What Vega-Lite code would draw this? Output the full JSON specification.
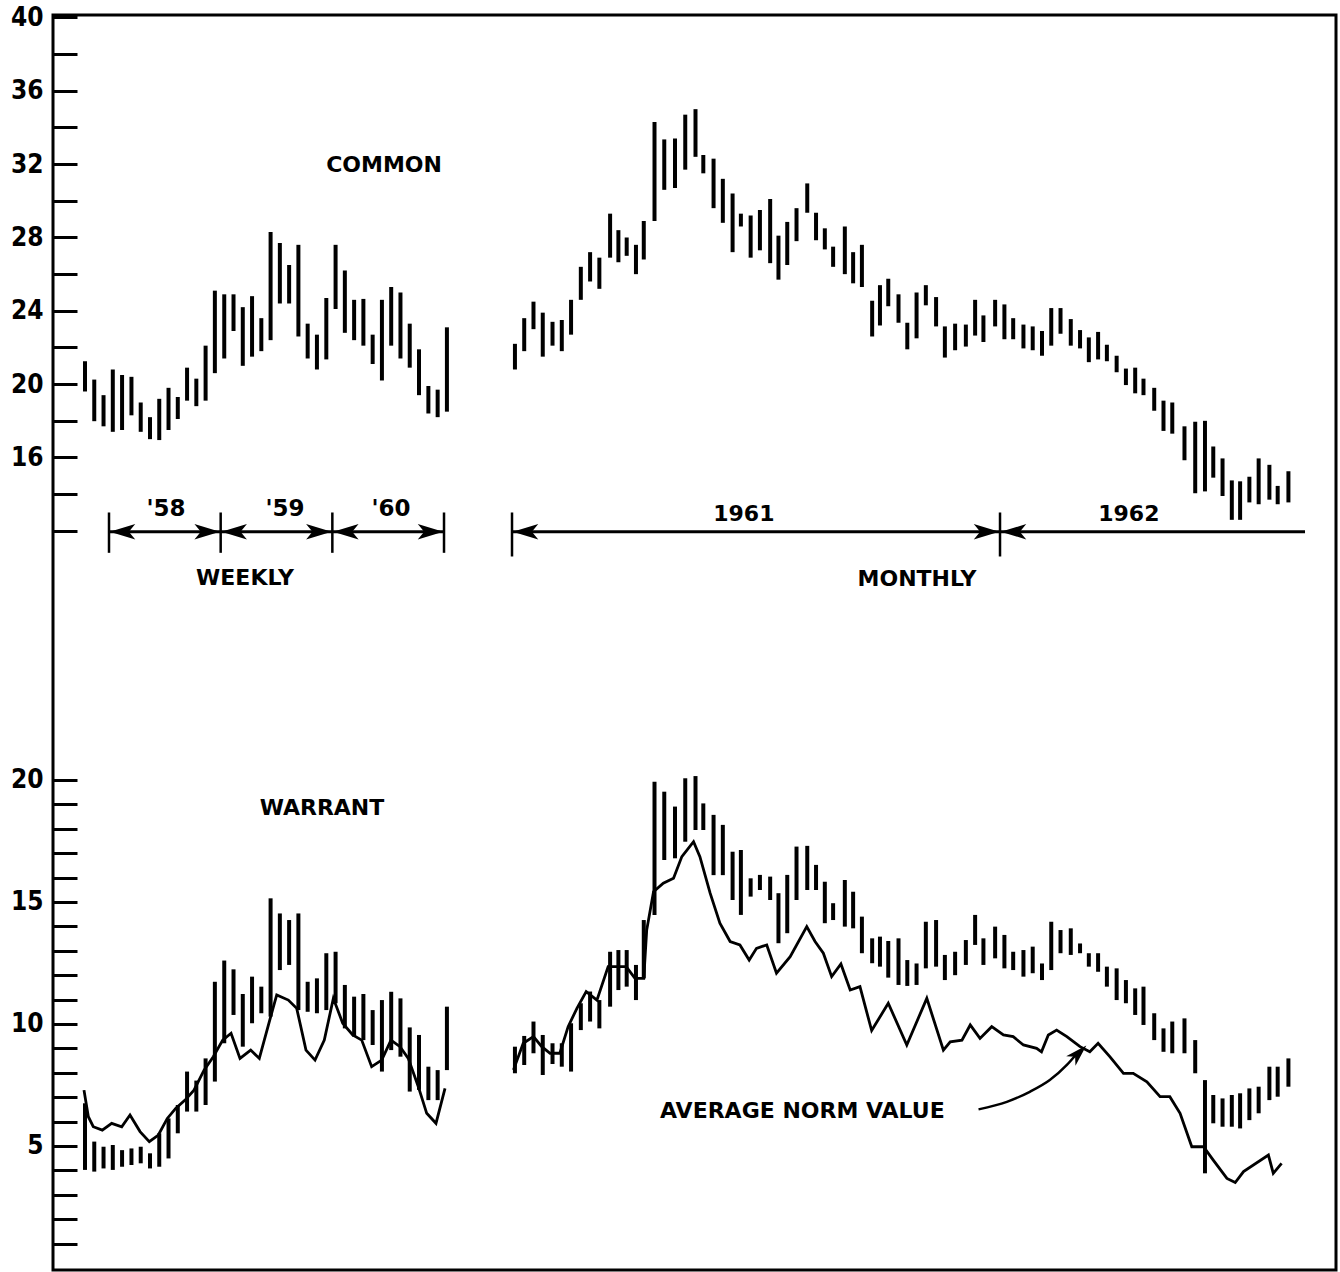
{
  "$schema": "https://vega.github.io/schema/vega-lite/v6.json",
  "width": 1283,
  "height": 1255,
  "autosize": "none",
  "padding": {"left": 53, "top": 15, "right": 4, "bottom": 2},
  "background": "white",
  "config": {"view": {"stroke": "black", "strokeWidth": 3}},
  "datasets": {
    "weekly": [
      {"t": 1957.785, "cLo": 19.6, "cHi": 21.25, "wLo": 4.02, "wHi": 6.75},
      {"t": 1957.868, "cLo": 17.98, "cHi": 20.25, "wLo": 3.95, "wHi": 5.18},
      {"t": 1957.951, "cLo": 17.7, "cHi": 19.4, "wLo": 4.08, "wHi": 4.97},
      {"t": 1958.034, "cLo": 17.4, "cHi": 20.8, "wLo": 4.02, "wHi": 5.04},
      {"t": 1958.117, "cLo": 17.5, "cHi": 20.5, "wLo": 4.15, "wHi": 4.83},
      {"t": 1958.201, "cLo": 18.3, "cHi": 20.4, "wLo": 4.22, "wHi": 4.9},
      {"t": 1958.284, "cLo": 17.4, "cHi": 19.0, "wLo": 4.29, "wHi": 4.97},
      {"t": 1958.367, "cLo": 17.0, "cHi": 18.2, "wLo": 4.08, "wHi": 4.7},
      {"t": 1958.450, "cLo": 16.95, "cHi": 19.2, "wLo": 4.15, "wHi": 5.52},
      {"t": 1958.533, "cLo": 17.5, "cHi": 19.8, "wLo": 4.49, "wHi": 6.13},
      {"t": 1958.616, "cLo": 18.1, "cHi": 19.3, "wLo": 5.52, "wHi": 6.68},
      {"t": 1958.699, "cLo": 19.1, "cHi": 20.9, "wLo": 6.41, "wHi": 8.05},
      {"t": 1958.782, "cLo": 18.8, "cHi": 20.3, "wLo": 6.41, "wHi": 7.68},
      {"t": 1958.865, "cLo": 19.1, "cHi": 22.1, "wLo": 6.68, "wHi": 8.59},
      {"t": 1958.948, "cLo": 20.6, "cHi": 25.1, "wLo": 7.64, "wHi": 11.73},
      {"t": 1959.032, "cLo": 21.4, "cHi": 24.9, "wLo": 9.21, "wHi": 12.6},
      {"t": 1959.115, "cLo": 22.9, "cHi": 24.9, "wLo": 10.37, "wHi": 12.24},
      {"t": 1959.198, "cLo": 21.0, "cHi": 24.2, "wLo": 9.07, "wHi": 11.23},
      {"t": 1959.281, "cLo": 21.5, "cHi": 24.8, "wLo": 10.03, "wHi": 11.94},
      {"t": 1959.364, "cLo": 21.8, "cHi": 23.6, "wLo": 10.44, "wHi": 11.53},
      {"t": 1959.447, "cLo": 22.4, "cHi": 28.3, "wLo": 10.3, "wHi": 15.15},
      {"t": 1959.530, "cLo": 24.4, "cHi": 27.7, "wLo": 12.21, "wHi": 14.53},
      {"t": 1959.613, "cLo": 24.4, "cHi": 26.5, "wLo": 12.42, "wHi": 14.26},
      {"t": 1959.696, "cLo": 22.6, "cHi": 27.6, "wLo": 10.57, "wHi": 14.53},
      {"t": 1959.779, "cLo": 21.4, "cHi": 23.3, "wLo": 10.5, "wHi": 11.73},
      {"t": 1959.862, "cLo": 20.8, "cHi": 22.7, "wLo": 10.44, "wHi": 11.87},
      {"t": 1959.946, "cLo": 21.35, "cHi": 24.7, "wLo": 10.57, "wHi": 12.9},
      {"t": 1960.029, "cLo": 24.1, "cHi": 27.6, "wLo": 10.85, "wHi": 12.96},
      {"t": 1960.112, "cLo": 22.8, "cHi": 26.2, "wLo": 9.82, "wHi": 11.6},
      {"t": 1960.195, "cLo": 22.4, "cHi": 24.6, "wLo": 9.48, "wHi": 11.12},
      {"t": 1960.278, "cLo": 22.1, "cHi": 24.65, "wLo": 9.34, "wHi": 11.23},
      {"t": 1960.361, "cLo": 21.1, "cHi": 22.7, "wLo": 9.14, "wHi": 10.57},
      {"t": 1960.444, "cLo": 20.2, "cHi": 24.6, "wLo": 8.05, "wHi": 10.98},
      {"t": 1960.527, "cLo": 22.1, "cHi": 25.3, "wLo": 8.93, "wHi": 11.32},
      {"t": 1960.610, "cLo": 21.4, "cHi": 25.0, "wLo": 8.66, "wHi": 11.05},
      {"t": 1960.693, "cLo": 20.9, "cHi": 23.3, "wLo": 7.23, "wHi": 9.86},
      {"t": 1960.776, "cLo": 19.4, "cHi": 21.9, "wLo": 7.3, "wHi": 9.55},
      {"t": 1960.860, "cLo": 18.4, "cHi": 19.9, "wLo": 6.88, "wHi": 8.25},
      {"t": 1960.943, "cLo": 18.2, "cHi": 19.7, "wLo": 6.88, "wHi": 8.11},
      {"t": 1961.026, "cLo": 18.5, "cHi": 23.1, "wLo": 8.11, "wHi": 10.71}
    ],
    "monthly": [
      {"t": 1961.006, "cLo": 20.8, "cHi": 22.2, "wLo": 7.98, "wHi": 9.07},
      {"t": 1961.025, "cLo": 21.8, "cHi": 23.6, "wLo": 8.32, "wHi": 9.51},
      {"t": 1961.044, "cLo": 23.0, "cHi": 24.5, "wLo": 8.8, "wHi": 10.1},
      {"t": 1961.063, "cLo": 21.5, "cHi": 23.9, "wLo": 7.91, "wHi": 9.55},
      {"t": 1961.083, "cLo": 22.1, "cHi": 23.4, "wLo": 8.36, "wHi": 9.21},
      {"t": 1961.102, "cLo": 21.8, "cHi": 23.5, "wLo": 8.25, "wHi": 9.21},
      {"t": 1961.121, "cLo": 22.7, "cHi": 24.6, "wLo": 8.05, "wHi": 10.03},
      {"t": 1961.141, "cLo": 24.6, "cHi": 26.4, "wLo": 9.75, "wHi": 10.85},
      {"t": 1961.160, "cLo": 25.6, "cHi": 27.2, "wLo": 10.1, "wHi": 11.33},
      {"t": 1961.179, "cLo": 25.2, "cHi": 26.9, "wLo": 9.82, "wHi": 10.98},
      {"t": 1961.201, "cLo": 26.9, "cHi": 29.3, "wLo": 10.71, "wHi": 12.96},
      {"t": 1961.218, "cLo": 26.65, "cHi": 28.4, "wLo": 11.39, "wHi": 13.03},
      {"t": 1961.235, "cLo": 27.0, "cHi": 28.0, "wLo": 11.53, "wHi": 13.03},
      {"t": 1961.254, "cLo": 26.0, "cHi": 27.6, "wLo": 10.98, "wHi": 12.42},
      {"t": 1961.270, "cLo": 26.8, "cHi": 28.9, "wLo": 11.87, "wHi": 14.26},
      {"t": 1961.292, "cLo": 28.9, "cHi": 34.3, "wLo": 14.47, "wHi": 19.93},
      {"t": 1961.312, "cLo": 30.6, "cHi": 33.35, "wLo": 16.72, "wHi": 19.52},
      {"t": 1961.334, "cLo": 30.7, "cHi": 33.4, "wLo": 16.79, "wHi": 18.91},
      {"t": 1961.355, "cLo": 31.7, "cHi": 34.7, "wLo": 17.47, "wHi": 20.07},
      {"t": 1961.376, "cLo": 32.4, "cHi": 35.0, "wLo": 17.95, "wHi": 20.16},
      {"t": 1961.392, "cLo": 31.5, "cHi": 32.5, "wLo": 17.95, "wHi": 19.04},
      {"t": 1961.413, "cLo": 29.6, "cHi": 32.3, "wLo": 16.1, "wHi": 18.57},
      {"t": 1961.432, "cLo": 28.8, "cHi": 31.2, "wLo": 16.1, "wHi": 18.16},
      {"t": 1961.452, "cLo": 27.2, "cHi": 30.4, "wLo": 15.08, "wHi": 17.06},
      {"t": 1961.469, "cLo": 28.6, "cHi": 29.3, "wLo": 14.47, "wHi": 17.13},
      {"t": 1961.489, "cLo": 26.9, "cHi": 29.2, "wLo": 15.22, "wHi": 15.97},
      {"t": 1961.508, "cLo": 27.3, "cHi": 29.5, "wLo": 15.49, "wHi": 16.11},
      {"t": 1961.529, "cLo": 26.6, "cHi": 30.1, "wLo": 15.08, "wHi": 16.04},
      {"t": 1961.546, "cLo": 25.7, "cHi": 28.1, "wLo": 13.31, "wHi": 15.36},
      {"t": 1961.564, "cLo": 26.5, "cHi": 28.85, "wLo": 13.72, "wHi": 16.11},
      {"t": 1961.583, "cLo": 27.8, "cHi": 29.6, "wLo": 15.08, "wHi": 17.27},
      {"t": 1961.605, "cLo": 29.35, "cHi": 30.95, "wLo": 15.49, "wHi": 17.3},
      {"t": 1961.623, "cLo": 27.85, "cHi": 29.35, "wLo": 15.49, "wHi": 16.52},
      {"t": 1961.641, "cLo": 27.35, "cHi": 28.5, "wLo": 14.13, "wHi": 15.83},
      {"t": 1961.658, "cLo": 26.4, "cHi": 27.5, "wLo": 14.26, "wHi": 14.95},
      {"t": 1961.682, "cLo": 26.0, "cHi": 28.6, "wLo": 13.99, "wHi": 15.9},
      {"t": 1961.699, "cLo": 25.5, "cHi": 27.2, "wLo": 13.92, "wHi": 15.42},
      {"t": 1961.717, "cLo": 25.3, "cHi": 27.6, "wLo": 12.9, "wHi": 14.4},
      {"t": 1961.738, "cLo": 22.6, "cHi": 24.55, "wLo": 12.49, "wHi": 13.51},
      {"t": 1961.754, "cLo": 23.2, "cHi": 25.4, "wLo": 12.35, "wHi": 13.58},
      {"t": 1961.771, "cLo": 24.25, "cHi": 25.75, "wLo": 11.9, "wHi": 13.4},
      {"t": 1961.792, "cLo": 23.35, "cHi": 24.9, "wLo": 11.6, "wHi": 13.51},
      {"t": 1961.810, "cLo": 21.9, "cHi": 23.35, "wLo": 11.56, "wHi": 12.62},
      {"t": 1961.829, "cLo": 22.5, "cHi": 25.0, "wLo": 11.6, "wHi": 12.48},
      {"t": 1961.848, "cLo": 24.3, "cHi": 25.4, "wLo": 12.28, "wHi": 14.19},
      {"t": 1961.869, "cLo": 23.15, "cHi": 24.75, "wLo": 12.35, "wHi": 14.26},
      {"t": 1961.887, "cLo": 21.45, "cHi": 23.15, "wLo": 11.8, "wHi": 12.83},
      {"t": 1961.908, "cLo": 21.85, "cHi": 23.3, "wLo": 12.0, "wHi": 12.96},
      {"t": 1961.930, "cLo": 22.05, "cHi": 23.25, "wLo": 12.42, "wHi": 13.44},
      {"t": 1961.949, "cLo": 22.65, "cHi": 24.6, "wLo": 13.24, "wHi": 14.47},
      {"t": 1961.966, "cLo": 22.3, "cHi": 23.75, "wLo": 12.42, "wHi": 13.51},
      {"t": 1961.990, "cLo": 23.15, "cHi": 24.6, "wLo": 12.69, "wHi": 13.99},
      {"t": 1962.009, "cLo": 22.45, "cHi": 24.35, "wLo": 12.28, "wHi": 13.65},
      {"t": 1962.027, "cLo": 22.45, "cHi": 23.6, "wLo": 12.21, "wHi": 12.96},
      {"t": 1962.048, "cLo": 21.95, "cHi": 23.25, "wLo": 11.94, "wHi": 13.03},
      {"t": 1962.067, "cLo": 21.85, "cHi": 23.15, "wLo": 12.08, "wHi": 13.17},
      {"t": 1962.086, "cLo": 21.55, "cHi": 22.9, "wLo": 11.8, "wHi": 12.48},
      {"t": 1962.105, "cLo": 22.1, "cHi": 24.15, "wLo": 12.21, "wHi": 14.19},
      {"t": 1962.124, "cLo": 22.75, "cHi": 24.15, "wLo": 12.9, "wHi": 13.85},
      {"t": 1962.145, "cLo": 22.1, "cHi": 23.55, "wLo": 12.83, "wHi": 13.92},
      {"t": 1962.164, "cLo": 21.95, "cHi": 22.95, "wLo": 12.9, "wHi": 13.3},
      {"t": 1962.182, "cLo": 21.2, "cHi": 22.55, "wLo": 12.35, "wHi": 12.9},
      {"t": 1962.201, "cLo": 21.35, "cHi": 22.85, "wLo": 12.14, "wHi": 12.9},
      {"t": 1962.219, "cLo": 21.25, "cHi": 22.15, "wLo": 11.53, "wHi": 12.35},
      {"t": 1962.239, "cLo": 20.65, "cHi": 21.55, "wLo": 10.98, "wHi": 12.28},
      {"t": 1962.258, "cLo": 19.95, "cHi": 20.85, "wLo": 10.85, "wHi": 11.8},
      {"t": 1962.277, "cLo": 19.5, "cHi": 20.9, "wLo": 10.37, "wHi": 11.46},
      {"t": 1962.294, "cLo": 19.4, "cHi": 20.3, "wLo": 9.96, "wHi": 11.53},
      {"t": 1962.316, "cLo": 18.55, "cHi": 19.8, "wLo": 9.34, "wHi": 10.44},
      {"t": 1962.335, "cLo": 17.45, "cHi": 19.1, "wLo": 8.86, "wHi": 9.82},
      {"t": 1962.353, "cLo": 17.3, "cHi": 19.0, "wLo": 8.8, "wHi": 10.1},
      {"t": 1962.378, "cLo": 15.85, "cHi": 17.7, "wLo": 8.8, "wHi": 10.23},
      {"t": 1962.400, "cLo": 14.05, "cHi": 17.95, "wLo": 7.98, "wHi": 9.34},
      {"t": 1962.420, "cLo": 14.15, "cHi": 18.0, "wLo": 3.88, "wHi": 7.7},
      {"t": 1962.437, "cLo": 14.9, "cHi": 16.6, "wLo": 5.93, "wHi": 7.09},
      {"t": 1962.456, "cLo": 13.9, "cHi": 15.95, "wLo": 5.79, "wHi": 6.95},
      {"t": 1962.475, "cLo": 12.6, "cHi": 14.75, "wLo": 5.79, "wHi": 7.09},
      {"t": 1962.492, "cLo": 12.6, "cHi": 14.7, "wLo": 5.72, "wHi": 7.16},
      {"t": 1962.511, "cLo": 13.55, "cHi": 14.95, "wLo": 6.06, "wHi": 7.36},
      {"t": 1962.530, "cLo": 13.45, "cHi": 15.95, "wLo": 6.34, "wHi": 7.43},
      {"t": 1962.552, "cLo": 13.7, "cHi": 15.6, "wLo": 6.88, "wHi": 8.25},
      {"t": 1962.569, "cLo": 13.45, "cHi": 14.45, "wLo": 7.02, "wHi": 8.25},
      {"t": 1962.591, "cLo": 13.55, "cHi": 15.25, "wLo": 7.43, "wHi": 8.59}
    ],
    "normWeekly": [
      {"t": 1957.776, "v": 7.29}, {"t": 1957.815, "v": 6.2}, {"t": 1957.859, "v": 5.79},
      {"t": 1957.940, "v": 5.65}, {"t": 1958.024, "v": 5.93}, {"t": 1958.114, "v": 5.79},
      {"t": 1958.188, "v": 6.27}, {"t": 1958.278, "v": 5.59}, {"t": 1958.361, "v": 5.18},
      {"t": 1958.442, "v": 5.45}, {"t": 1958.522, "v": 6.13}, {"t": 1958.597, "v": 6.54},
      {"t": 1958.681, "v": 6.88}, {"t": 1958.761, "v": 7.29}, {"t": 1958.851, "v": 8.11},
      {"t": 1958.934, "v": 8.66}, {"t": 1959.018, "v": 9.34}, {"t": 1959.093, "v": 9.62},
      {"t": 1959.173, "v": 8.59}, {"t": 1959.269, "v": 8.93}, {"t": 1959.346, "v": 8.59},
      {"t": 1959.448, "v": 10.3}, {"t": 1959.502, "v": 11.19}, {"t": 1959.606, "v": 10.98},
      {"t": 1959.681, "v": 10.64}, {"t": 1959.764, "v": 8.93}, {"t": 1959.845, "v": 8.52},
      {"t": 1959.928, "v": 9.34}, {"t": 1960.009, "v": 11.05}, {"t": 1960.093, "v": 10.03},
      {"t": 1960.182, "v": 9.55}, {"t": 1960.263, "v": 9.34}, {"t": 1960.352, "v": 8.25},
      {"t": 1960.442, "v": 8.52}, {"t": 1960.525, "v": 9.34}, {"t": 1960.606, "v": 9.07},
      {"t": 1960.680, "v": 8.59}, {"t": 1960.770, "v": 7.43}, {"t": 1960.845, "v": 6.34},
      {"t": 1960.928, "v": 5.93}, {"t": 1961.009, "v": 7.36}
    ],
    "normMonthly": [
      {"t": 1961.003, "v": 8.12}, {"t": 1961.023, "v": 9.21}, {"t": 1961.044, "v": 9.48},
      {"t": 1961.061, "v": 9.07}, {"t": 1961.078, "v": 8.8}, {"t": 1961.098, "v": 8.8},
      {"t": 1961.115, "v": 9.89}, {"t": 1961.133, "v": 10.64}, {"t": 1961.152, "v": 11.33},
      {"t": 1961.174, "v": 10.98}, {"t": 1961.197, "v": 12.35}, {"t": 1961.234, "v": 12.35},
      {"t": 1961.252, "v": 11.87}, {"t": 1961.270, "v": 11.87}, {"t": 1961.276, "v": 13.85},
      {"t": 1961.290, "v": 15.42}, {"t": 1961.310, "v": 15.77}, {"t": 1961.331, "v": 15.97},
      {"t": 1961.348, "v": 16.86}, {"t": 1961.372, "v": 17.47}, {"t": 1961.385, "v": 16.86},
      {"t": 1961.406, "v": 15.36}, {"t": 1961.426, "v": 14.13}, {"t": 1961.447, "v": 13.38},
      {"t": 1961.467, "v": 13.24}, {"t": 1961.486, "v": 12.62}, {"t": 1961.501, "v": 13.1},
      {"t": 1961.522, "v": 13.24}, {"t": 1961.542, "v": 12.08}, {"t": 1961.570, "v": 12.76},
      {"t": 1961.604, "v": 13.99}, {"t": 1961.621, "v": 13.38}, {"t": 1961.638, "v": 12.9},
      {"t": 1961.655, "v": 11.94}, {"t": 1961.674, "v": 12.46}, {"t": 1961.693, "v": 11.39},
      {"t": 1961.713, "v": 11.53}, {"t": 1961.737, "v": 9.73}, {"t": 1961.771, "v": 10.85},
      {"t": 1961.809, "v": 9.14}, {"t": 1961.850, "v": 11.05}, {"t": 1961.884, "v": 8.93},
      {"t": 1961.898, "v": 9.27}, {"t": 1961.922, "v": 9.34}, {"t": 1961.939, "v": 9.96},
      {"t": 1961.959, "v": 9.41}, {"t": 1961.983, "v": 9.89}, {"t": 1962.007, "v": 9.55},
      {"t": 1962.027, "v": 9.48}, {"t": 1962.048, "v": 9.14}, {"t": 1962.075, "v": 9.0},
      {"t": 1962.085, "v": 8.86}, {"t": 1962.099, "v": 9.55}, {"t": 1962.116, "v": 9.75},
      {"t": 1962.137, "v": 9.48}, {"t": 1962.164, "v": 9.07}, {"t": 1962.184, "v": 8.86},
      {"t": 1962.201, "v": 9.21}, {"t": 1962.225, "v": 8.66}, {"t": 1962.253, "v": 7.98},
      {"t": 1962.273, "v": 7.98}, {"t": 1962.301, "v": 7.63}, {"t": 1962.328, "v": 7.02},
      {"t": 1962.348, "v": 7.02}, {"t": 1962.369, "v": 6.34}, {"t": 1962.393, "v": 4.97},
      {"t": 1962.417, "v": 4.97}, {"t": 1962.437, "v": 4.42}, {"t": 1962.465, "v": 3.67},
      {"t": 1962.482, "v": 3.5}, {"t": 1962.499, "v": 3.95}, {"t": 1962.550, "v": 4.63},
      {"t": 1962.560, "v": 3.88}, {"t": 1962.577, "v": 4.29}
    ],
    "callout": [
      {"t": 1961.956, "v": 6.5}, {"t": 1962.014, "v": 6.81}, {"t": 1962.061, "v": 7.22},
      {"t": 1962.102, "v": 7.7}, {"t": 1962.137, "v": 8.32}, {"t": 1962.156, "v": 8.75}
    ]
  },
  "layer": [
    {
      "data": {"name": "weekly"},
      "mark": {"type": "rule", "color": "black", "strokeWidth": 4},
      "encoding": {
        "x": {"field": "t", "type": "quantitative", "scale": {"domain": [1957.4985, 1968.9877], "nice": false, "zero": false}, "axis": null},
        "y": {"field": "cHi", "type": "quantitative", "scale": {"domain": [-28.319, 40.136], "nice": false, "zero": false},
          "axis": {"orient": "left", "values": [12, 14, 16, 18, 20, 22, 24, 26, 28, 30, 32, 34, 36, 38, 40],
            "labelExpr": "datum.value >= 16 && datum.value % 4 == 0 ? datum.label : ''",
            "domain": false, "grid": false, "title": null, "tickSize": -24, "tickWidth": 3, "tickColor": "black",
            "labelFont": "DejaVu Sans Condensed, DejaVu Sans", "labelFontSize": 26, "labelFontWeight": "bold", "labelColor": "black",
            "labelPadding": 34, "labelOverlap": false, "labelFlush": false, "labelBaseline": "middle"}},
        "y2": {"field": "cLo"}
      }
    },
    {
      "data": {"name": "monthly"},
      "mark": {"type": "rule", "color": "black", "strokeWidth": 4},
      "encoding": {
        "x": {"field": "t", "type": "quantitative", "scale": {"domain": [1960.0594, 1962.6885], "nice": false, "zero": false}, "axis": null},
        "y": {"field": "cHi", "type": "quantitative", "scale": {"domain": [-28.319, 40.136], "nice": false, "zero": false}, "axis": null},
        "y2": {"field": "cLo"}
      }
    },
    {
      "data": {"name": "weekly"},
      "mark": {"type": "rule", "color": "black", "strokeWidth": 4},
      "encoding": {
        "x": {"field": "t", "type": "quantitative", "scale": {"domain": [1957.4985, 1968.9877], "nice": false, "zero": false}, "axis": null},
        "y": {"field": "wHi", "type": "quantitative", "scale": {"domain": [-0.082, 51.35], "nice": false, "zero": false},
          "axis": {"orient": "left", "values": [1, 2, 3, 4, 5, 6, 7, 8, 9, 10, 11, 12, 13, 14, 15, 16, 17, 18, 19, 20],
            "labelExpr": "datum.value % 5 == 0 ? datum.label : ''",
            "domain": false, "grid": false, "title": null, "tickSize": -24, "tickWidth": 3, "tickColor": "black",
            "labelFont": "DejaVu Sans Condensed, DejaVu Sans", "labelFontSize": 26, "labelFontWeight": "bold", "labelColor": "black",
            "labelPadding": 34, "labelOverlap": false, "labelFlush": false, "labelBaseline": "middle"}},
        "y2": {"field": "wLo"}
      }
    },
    {
      "data": {"name": "monthly"},
      "mark": {"type": "rule", "color": "black", "strokeWidth": 4},
      "encoding": {
        "x": {"field": "t", "type": "quantitative", "scale": {"domain": [1960.0594, 1962.6885], "nice": false, "zero": false}, "axis": null},
        "y": {"field": "wHi", "type": "quantitative", "scale": {"domain": [-0.082, 51.35], "nice": false, "zero": false}, "axis": null},
        "y2": {"field": "wLo"}
      }
    },
    {
      "data": {"name": "normWeekly"},
      "mark": {"type": "line", "color": "black", "strokeWidth": 2.8},
      "encoding": {
        "x": {"field": "t", "type": "quantitative", "scale": {"domain": [1957.4985, 1968.9877], "nice": false, "zero": false}, "axis": null},
        "y": {"field": "v", "type": "quantitative", "scale": {"domain": [-0.082, 51.35], "nice": false, "zero": false}, "axis": null}
      }
    },
    {
      "data": {"name": "normMonthly"},
      "mark": {"type": "line", "color": "black", "strokeWidth": 2.8},
      "encoding": {
        "x": {"field": "t", "type": "quantitative", "scale": {"domain": [1960.0594, 1962.6885], "nice": false, "zero": false}, "axis": null},
        "y": {"field": "v", "type": "quantitative", "scale": {"domain": [-0.082, 51.35], "nice": false, "zero": false}, "axis": null}
      }
    },
    {
      "data": {"name": "callout"},
      "mark": {"type": "line", "color": "black", "strokeWidth": 2.5, "interpolate": "monotone"},
      "encoding": {
        "x": {"field": "t", "type": "quantitative", "scale": {"domain": [1960.0594, 1962.6885], "nice": false, "zero": false}, "axis": null},
        "y": {"field": "v", "type": "quantitative", "scale": {"domain": [-0.082, 51.35], "nice": false, "zero": false}, "axis": null}
      }
    },
    {
      "data": {"values": [{}]},
      "mark": {"type": "point", "filled": true, "color": "black", "opacity": 1, "size": 480, "shape": "M1,0L-1,-0.6L-0.45,0L-1,0.6Z", "angle": -45},
      "encoding": {
        "x": {"datum": 1962.161, "type": "quantitative", "scale": {"domain": [1960.0594, 1962.6885], "nice": false, "zero": false}, "axis": null},
        "y": {"datum": 8.8, "type": "quantitative", "scale": {"domain": [-0.082, 51.35], "nice": false, "zero": false}, "axis": null}
      }
    },
    {
      "data": {"values": [{}]},
      "mark": {"type": "rule", "color": "black", "strokeWidth": 3},
      "encoding": {
        "x": {"datum": 1958, "type": "quantitative", "scale": {"domain": [1957.4985, 1968.9877], "nice": false, "zero": false}, "axis": null},
        "x2": {"datum": 1961},
        "y": {"datum": 11.95, "type": "quantitative", "scale": {"domain": [-28.319, 40.136], "nice": false, "zero": false}, "axis": null}
      }
    },
    {
      "data": {"values": [{"year": 1958}, {"year": 1959}, {"year": 1960}, {"year": 1961}]},
      "mark": {"type": "rule", "color": "black", "strokeWidth": 2.5},
      "encoding": {
        "x": {"field": "year", "type": "quantitative", "scale": {"domain": [1957.4985, 1968.9877], "nice": false, "zero": false}, "axis": null},
        "y": {"datum": 13.0, "type": "quantitative", "scale": {"domain": [-28.319, 40.136], "nice": false, "zero": false}, "axis": null},
        "y2": {"datum": 10.8}
      }
    },
    {
      "data": {"values": [{"year": 1958}, {"year": 1959}, {"year": 1960}]},
      "mark": {"type": "point", "filled": true, "color": "black", "opacity": 1, "size": 650, "shape": "M-1,0L1,-0.6L0.5,0L1,0.6Z", "xOffset": 13.5},
      "encoding": {
        "x": {"field": "year", "type": "quantitative", "scale": {"domain": [1957.4985, 1968.9877], "nice": false, "zero": false}, "axis": null},
        "y": {"datum": 11.95, "type": "quantitative", "scale": {"domain": [-28.319, 40.136], "nice": false, "zero": false}, "axis": null}
      }
    },
    {
      "data": {"values": [{"year": 1959}, {"year": 1960}, {"year": 1961}]},
      "mark": {"type": "point", "filled": true, "color": "black", "opacity": 1, "size": 650, "shape": "M1,0L-1,-0.6L-0.5,0L-1,0.6Z", "xOffset": -13.5},
      "encoding": {
        "x": {"field": "year", "type": "quantitative", "scale": {"domain": [1957.4985, 1968.9877], "nice": false, "zero": false}, "axis": null},
        "y": {"datum": 11.95, "type": "quantitative", "scale": {"domain": [-28.319, 40.136], "nice": false, "zero": false}, "axis": null}
      }
    },
    {
      "data": {"values": [{}]},
      "mark": {"type": "rule", "color": "black", "strokeWidth": 3},
      "encoding": {
        "x": {"datum": 1961, "type": "quantitative", "scale": {"domain": [1960.0594, 1962.6885], "nice": false, "zero": false}, "axis": null},
        "x2": {"datum": 1962.625},
        "y": {"datum": 11.95, "type": "quantitative", "scale": {"domain": [-28.319, 40.136], "nice": false, "zero": false}, "axis": null}
      }
    },
    {
      "data": {"values": [{"year": 1961}, {"year": 1962}]},
      "mark": {"type": "rule", "color": "black", "strokeWidth": 2.5},
      "encoding": {
        "x": {"field": "year", "type": "quantitative", "scale": {"domain": [1960.0594, 1962.6885], "nice": false, "zero": false}, "axis": null},
        "y": {"datum": 13.0, "type": "quantitative", "scale": {"domain": [-28.319, 40.136], "nice": false, "zero": false}, "axis": null},
        "y2": {"datum": 10.6}
      }
    },
    {
      "data": {"values": [{"year": 1961}, {"year": 1962}]},
      "mark": {"type": "point", "filled": true, "color": "black", "opacity": 1, "size": 650, "shape": "M-1,0L1,-0.6L0.5,0L1,0.6Z", "xOffset": 13.5},
      "encoding": {
        "x": {"field": "year", "type": "quantitative", "scale": {"domain": [1960.0594, 1962.6885], "nice": false, "zero": false}, "axis": null},
        "y": {"datum": 11.95, "type": "quantitative", "scale": {"domain": [-28.319, 40.136], "nice": false, "zero": false}, "axis": null}
      }
    },
    {
      "data": {"values": [{"year": 1962}]},
      "mark": {"type": "point", "filled": true, "color": "black", "opacity": 1, "size": 650, "shape": "M1,0L-1,-0.6L-0.5,0L-1,0.6Z", "xOffset": -13.5},
      "encoding": {
        "x": {"field": "year", "type": "quantitative", "scale": {"domain": [1960.0594, 1962.6885], "nice": false, "zero": false}, "axis": null},
        "y": {"datum": 11.95, "type": "quantitative", "scale": {"domain": [-28.319, 40.136], "nice": false, "zero": false}, "axis": null}
      }
    },
    {
      "data": {"values": [{}]},
      "mark": {"type": "text", "font": "DejaVu Sans", "fontSize": 22, "fontWeight": "bold", "color": "black"},
      "encoding": {
        "x": {"datum": 1960.463, "type": "quantitative", "scale": {"domain": [1957.4985, 1968.9877], "nice": false, "zero": false}, "axis": null},
        "y": {"datum": 31.98, "type": "quantitative", "scale": {"domain": [-28.319, 40.136], "nice": false, "zero": false}, "axis": null},
        "text": {"value": "COMMON"}
      }
    },
    {
      "data": {"values": [{}]},
      "mark": {"type": "text", "font": "DejaVu Sans", "fontSize": 22, "fontWeight": "bold", "color": "black"},
      "encoding": {
        "x": {"datum": 1959.218, "type": "quantitative", "scale": {"domain": [1957.4985, 1968.9877], "nice": false, "zero": false}, "axis": null},
        "y": {"datum": 9.45, "type": "quantitative", "scale": {"domain": [-28.319, 40.136], "nice": false, "zero": false}, "axis": null},
        "text": {"value": "WEEKLY"}
      }
    },
    {
      "data": {"values": [{}]},
      "mark": {"type": "text", "font": "DejaVu Sans", "fontSize": 23, "fontWeight": "bold", "color": "black"},
      "encoding": {
        "x": {"datum": 1958.51, "type": "quantitative", "scale": {"domain": [1957.4985, 1968.9877], "nice": false, "zero": false}, "axis": null},
        "y": {"datum": 13.2, "type": "quantitative", "scale": {"domain": [-28.319, 40.136], "nice": false, "zero": false}, "axis": null},
        "text": {"value": "'58"}
      }
    },
    {
      "data": {"values": [{}]},
      "mark": {"type": "text", "font": "DejaVu Sans", "fontSize": 23, "fontWeight": "bold", "color": "black"},
      "encoding": {
        "x": {"datum": 1959.576, "type": "quantitative", "scale": {"domain": [1957.4985, 1968.9877], "nice": false, "zero": false}, "axis": null},
        "y": {"datum": 13.2, "type": "quantitative", "scale": {"domain": [-28.319, 40.136], "nice": false, "zero": false}, "axis": null},
        "text": {"value": "'59"}
      }
    },
    {
      "data": {"values": [{}]},
      "mark": {"type": "text", "font": "DejaVu Sans", "fontSize": 23, "fontWeight": "bold", "color": "black"},
      "encoding": {
        "x": {"datum": 1960.525, "type": "quantitative", "scale": {"domain": [1957.4985, 1968.9877], "nice": false, "zero": false}, "axis": null},
        "y": {"datum": 13.2, "type": "quantitative", "scale": {"domain": [-28.319, 40.136], "nice": false, "zero": false}, "axis": null},
        "text": {"value": "'60"}
      }
    },
    {
      "data": {"values": [{}]},
      "mark": {"type": "text", "font": "DejaVu Sans", "fontSize": 22, "fontWeight": "bold", "color": "black"},
      "encoding": {
        "x": {"datum": 1961.475, "type": "quantitative", "scale": {"domain": [1960.0594, 1962.6885], "nice": false, "zero": false}, "axis": null},
        "y": {"datum": 12.94, "type": "quantitative", "scale": {"domain": [-28.319, 40.136], "nice": false, "zero": false}, "axis": null},
        "text": {"value": "1961"}
      }
    },
    {
      "data": {"values": [{}]},
      "mark": {"type": "text", "font": "DejaVu Sans", "fontSize": 22, "fontWeight": "bold", "color": "black"},
      "encoding": {
        "x": {"datum": 1962.264, "type": "quantitative", "scale": {"domain": [1960.0594, 1962.6885], "nice": false, "zero": false}, "axis": null},
        "y": {"datum": 12.94, "type": "quantitative", "scale": {"domain": [-28.319, 40.136], "nice": false, "zero": false}, "axis": null},
        "text": {"value": "1962"}
      }
    },
    {
      "data": {"values": [{}]},
      "mark": {"type": "text", "font": "DejaVu Sans", "fontSize": 22, "fontWeight": "bold", "color": "black"},
      "encoding": {
        "x": {"datum": 1961.83, "type": "quantitative", "scale": {"domain": [1960.0594, 1962.6885], "nice": false, "zero": false}, "axis": null},
        "y": {"datum": 9.35, "type": "quantitative", "scale": {"domain": [-28.319, 40.136], "nice": false, "zero": false}, "axis": null},
        "text": {"value": "MONTHLY"}
      }
    },
    {
      "data": {"values": [{}]},
      "mark": {"type": "text", "font": "DejaVu Sans", "fontSize": 22, "fontWeight": "bold", "color": "black"},
      "encoding": {
        "x": {"datum": 1959.907, "type": "quantitative", "scale": {"domain": [1957.4985, 1968.9877], "nice": false, "zero": false}, "axis": null},
        "y": {"datum": 18.85, "type": "quantitative", "scale": {"domain": [-0.082, 51.35], "nice": false, "zero": false}, "axis": null},
        "text": {"value": "WARRANT"}
      }
    },
    {
      "data": {"values": [{}]},
      "mark": {"type": "text", "font": "DejaVu Sans", "fontSize": 22, "fontWeight": "bold", "color": "black"},
      "encoding": {
        "x": {"datum": 1961.595, "type": "quantitative", "scale": {"domain": [1960.0594, 1962.6885], "nice": false, "zero": false}, "axis": null},
        "y": {"datum": 6.43, "type": "quantitative", "scale": {"domain": [-0.082, 51.35], "nice": false, "zero": false}, "axis": null},
        "text": {"value": "AVERAGE  NORM  VALUE"}
      }
    }
  ],
  "resolve": {"scale": {"x": "independent", "y": "independent"}, "axis": {"x": "independent", "y": "independent"}}
}
